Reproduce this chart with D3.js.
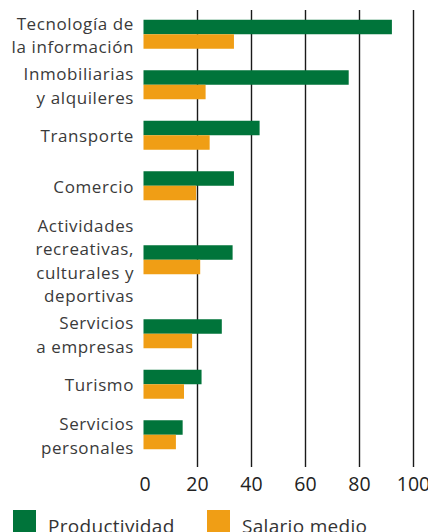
<!DOCTYPE html>
<html>
<head>
<meta charset="utf-8">
<script src="https://cdn.jsdelivr.net/npm/d3@7"></script>
<style>
  html, body { margin: 0; padding: 0; background: #fff; }
  svg { display: block; }
  text { font-family: "Open Sans", "Noto Sans", sans-serif; }
</style>
</head>
<body>
<svg id="chart" width="428" height="532"></svg>
<script>
// Sector labels (line breaks marked with "\n")
const categories = [
  "Tecnología de\nla información",
  "Inmobiliarias\ny alquileres",
  "Transporte",
  "Comercio",
  "Actividades\nrecreativas,\nculturales y\ndeportivas",
  "Servicios\na empresas",
  "Turismo",
  "Servicios\npersonales"
];
const productividad = [92, 76, 43, 33.5, 33, 29, 21.5, 14.5];
const salarioMedio  = [33.5, 23, 24.5, 19.5, 21, 18, 15, 12];
const seriesNames   = ["Productividad", "Salario medio"];
const xTicks        = [0, 20, 40, 60, 80, 100];

const colors = { "Productividad": "#00743a", "Salario medio": "#f09e15" };
const LINE_H = 23.5;

const svg = d3.select("#chart");

const x = d3.scaleLinear().domain([0, 100]).range([143.5, 413.5]);

// Each row gets vertical room according to how many label lines it has
const rows = categories.map((c, i) => {
  const lines = c.split("\n");
  return { name: c, lines, span: LINE_H * Math.max(lines.length, 2) + 3.5,
           values: [productividad[i], salarioMedio[i]] };
});
let acc = 0;
rows.forEach(r => { r.start = acc; acc += r.span; r.mid = r.start + r.span / 2; });
const yRows = d3.scaleLinear().domain([0, acc]).range([9, 9 + acc]);

// Two bars per row, productividad above salario
const inner = d3.scaleBand().domain(seriesNames).range([-14.5, 14.5]).paddingInner(0);

// Vertical grid lines
svg.append("g")
  .selectAll("line")
  .data(xTicks.filter(t => t > 0))
  .join("line")
  .attr("x1", d => x(d)).attr("x2", d => x(d))
  .attr("y1", 10).attr("y2", 467)
  .attr("stroke", "#1a1a1a").attr("stroke-width", 1.4);

// Bars
const rowG = svg.append("g")
  .selectAll("g")
  .data(rows)
  .join("g")
  .attr("transform", d => `translate(0,${yRows(d.mid)})`);

rowG.selectAll("rect")
  .data(d => d.values.map((v, k) => ({ key: seriesNames[k], v })))
  .join("rect")
  .attr("x", x(0))
  .attr("y", d => inner(d.key))
  .attr("width", d => x(d.v) - x(0))
  .attr("height", inner.bandwidth())
  .attr("fill", d => colors[d.key]);

// Category labels, right aligned, centred on each row
rowG.append("text")
  .attr("text-anchor", "end")
  .attr("font-size", 17)
  .attr("letter-spacing", 0.6)
  .attr("fill", "#3a3a3a")
  .selectAll("tspan")
  .data(d => d.lines.map((l, k) => ({ l, k, n: d.lines.length })))
  .join("tspan")
  .attr("x", 134)
  .attr("y", d => (d.k - (d.n - 1) / 2) * LINE_H + 7)
  .text(d => d.l);

// X axis tick labels
svg.append("g")
  .selectAll("text")
  .data(xTicks)
  .join("text")
  .attr("x", d => x(d) + (d === 0 ? 1.5 : 0))
  .attr("y", 491)
  .attr("text-anchor", "middle")
  .attr("font-size", 19.5)
  .attr("fill", "#222")
  .text(d => d);

// Legend
const legend = svg.append("g")
  .selectAll("g")
  .data(seriesNames)
  .join("g")
  .attr("transform", (d, i) => `translate(${i === 0 ? 13 : 207},510)`);
legend.append("rect")
  .attr("width", 23).attr("height", 23)
  .attr("fill", d => colors[d]);
legend.append("text")
  .attr("x", 35).attr("y", 23)
  .attr("font-size", 19)
  .attr("letter-spacing", 0.3)
  .attr("fill", "#333")
  .text(d => d);
</script>
</body>
</html>
